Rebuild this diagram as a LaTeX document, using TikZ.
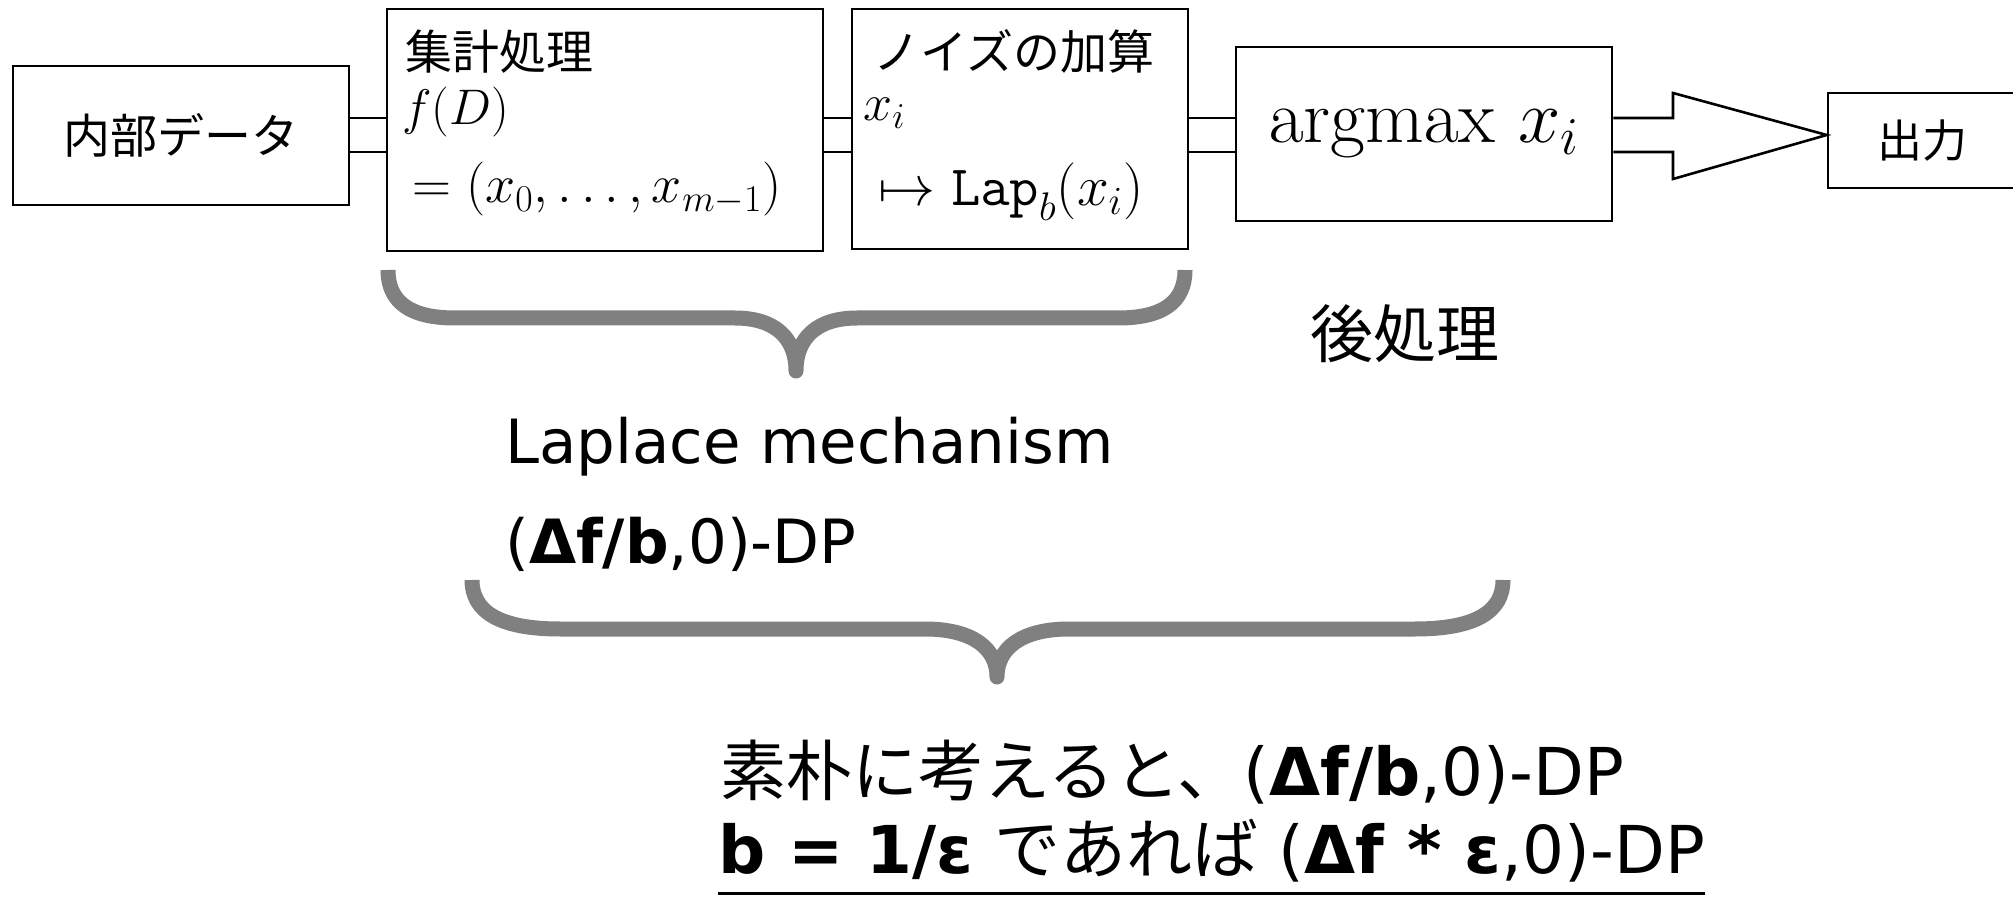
\RequirePackage{fix-cm}
\documentclass[tikz,border=0pt]{standalone}
\usepackage[no-math]{fontspec}
\newfontfamily\dv{DejaVu Sans}
\newfontfamily\jp{Noto Sans CJK JP}
\begin{document}
\begin{tikzpicture}[x=0.5pt,y=-0.5pt,
  box/.style={draw, line width=1.3pt, inner sep=0pt, fill=white},
  conn/.style={line width=1.3pt, line join=miter},
  txt/.style={inner sep=0pt, anchor=base west},
  brace/.style={draw=gray, line width=7.5pt, line cap=butt, line join=round},
  jpbox/.style={font=\jp\fontsize{23.5}{28}\selectfont},
  mth/.style={font=\fontsize{25}{30}\selectfont},
  slide/.style={font=\dv\fontsize{30.5}{37}\selectfont},
  slideb/.style={font=\dv\fontsize{33}{40}\selectfont}]
\useasboundingbox (0,0) rectangle (2013,898);

% boxes
\node[box, minimum width=168pt, minimum height=69.5pt, jpbox] (b1) at (181,135.5) {内部データ};
\node[box, minimum width=218pt, minimum height=121pt] (b2) at (605,130) {};
\node[box, minimum width=168pt, minimum height=120pt] (b3) at (1020,129) {};
\node[box, minimum width=188pt, minimum height=87pt] (b4) at (1424,134) {};
\node[box, minimum width=94pt, minimum height=47.5pt, font=\jp\fontsize{22.5}{27}\selectfont] (b5) at (1922,140.5) {出力};

% box texts
\node[txt, jpbox] (t2a) at (405,70) {集計処理};
\node[txt, mth] (t2b) at (402,125) {$f(D)$};
\node[txt, font=\fontsize{27}{32}\selectfont] (t2c) at (412,203) {$=(x_0,\ldots,x_{m-1})$};
\node[txt, jpbox] (t3a) at (873,70) {ノイズの加算};
\node[txt, font=\fontsize{26}{31}\selectfont] (t3b) at (863,121) {$x_i$};
\node[txt, font=\fontsize{28.5}{34}\selectfont] (t3c) at (878,206) {$\mapsto\mathtt{Lap}_b(x_i)$};
\node[inner sep=0pt, anchor=base, font=\fontsize{38}{45}\selectfont] (t4) at (1424,143) {$\mathrm{argmax}\ x_i$};

% double-line connectors
\coordinate (ya) at (0,118);
\coordinate (yb) at (0,152);
\draw[conn] (b1.east |- ya) -- (b2.west |- ya);
\draw[conn] (b1.east |- yb) -- (b2.west |- yb);
\draw[conn] (b2.east |- ya) -- (b3.west |- ya);
\draw[conn] (b2.east |- yb) -- (b3.west |- yb);
\draw[conn] (b3.east |- ya) -- (b4.west |- ya);
\draw[conn] (b3.east |- yb) -- (b4.west |- yb);

% hollow arrow to output
\coordinate (tip) at (b5.west |- 0,135);
\draw[conn, fill=white] (b4.east |- ya) -- (1673,118) -- (1673,93) -- (tip)
  -- (1673,179) -- (1673,152) -- (b4.east |- yb);

% braces
\draw[brace] (388,270) .. controls (388,302) and (410,318) .. (455,318)
  -- (735,318) .. controls (775,318) and (796,338) .. (796,371)
  .. controls (796,338) and (817,318) .. (857,318)
  -- (1118,318) .. controls (1163,318) and (1185,302) .. (1185,270);
\draw[brace] (472,580) .. controls (472,612) and (500,629) .. (560,629)
  -- (925,629) .. controls (972,629) and (997,648) .. (997,677)
  .. controls (997,648) and (1022,629) .. (1069,629)
  -- (1415,629) .. controls (1475,629) and (1503,612) .. (1503,580);

% labels
\node[txt, font=\jp\fontsize{31.5}{38}\selectfont] (post) at (1310,358) {後処理};
\node[txt, slide] (lm) at (505,464) {Laplace mechanism};
\node[txt, slide] (lmdp) at (505,563) {(\textbf{Δf/b},0)-DP};
\node[txt, slideb] (l1) at (720,795) {{\jp 素朴に考えると、}(\textbf{Δf/b},0)-DP};
\node[txt, slideb] (l2) at (718,873) {\textbf{b = 1/ε} {\jp であれば} (\textbf{Δf * ε},0)-DP};
\draw[line width=1.5pt] ([yshift=-10pt]l2.base west) -- ([yshift=-10pt]l2.base east);
\end{tikzpicture}
\end{document}
